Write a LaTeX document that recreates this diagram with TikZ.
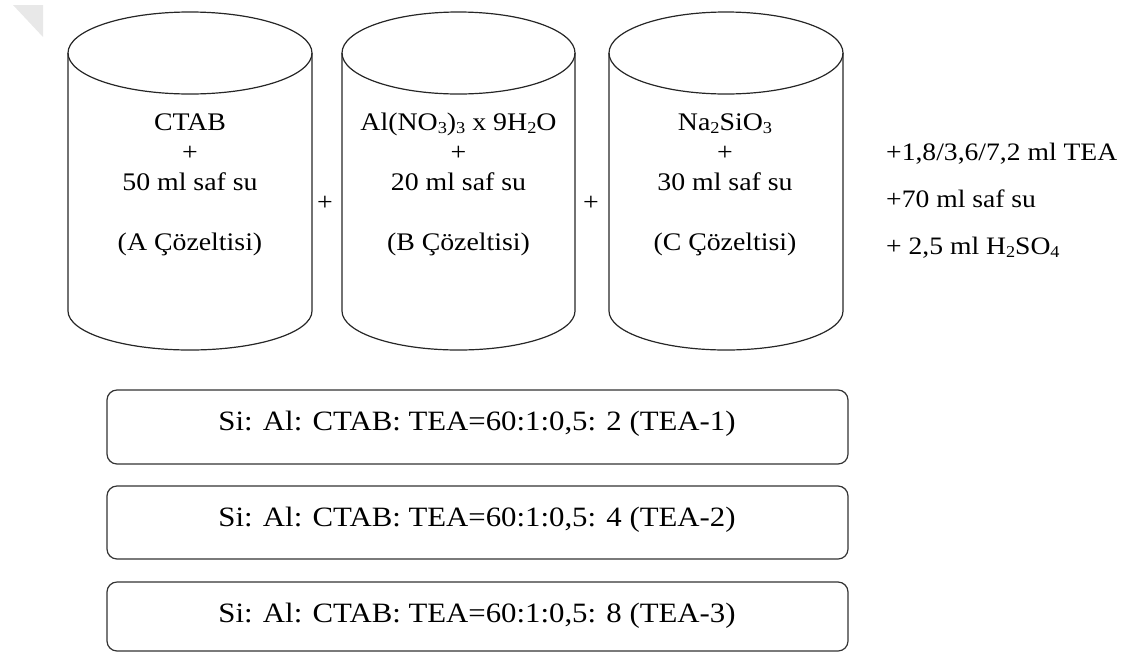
\documentclass[tikz,border=0pt]{standalone}
\usepackage{fontspec}
\setmainfont{Liberation Serif}[FakeStretch=1.1]
\newcommand\sbs[1]{\raisebox{-0.12em}{\scalebox{0.66}{#1}}}
\begin{document}
\begin{tikzpicture}[x=1pt,y=-1pt]
\tikzset{
  cyl/.style={draw=black!85, line width=1.2pt},
  ctext/.style={font=\fontsize{25.3}{28}\selectfont, anchor=base, inner sep=0pt},
  rtext/.style={font=\fontsize{25.1}{28}\selectfont, anchor=base west, inner sep=0pt},
  plustext/.style={font=\fontsize{25.3}{28}\selectfont, inner sep=0pt},
  ratiobox/.style={draw=black!80, line width=1.2pt, rounded corners=10pt, minimum width=741pt, inner sep=0pt},
  btext/.style={font=\fontsize{28}{30}\selectfont, inner sep=0pt},
  fold/.style={fill=black!9, draw=none}
}
\useasboundingbox (0,0) rectangle (1129,654);
% page-corner mark
\fill[fold] (13,5) -- (43,5) -- (43,37) -- cycle;

% cylinder A
\draw[cyl] (190,53) ellipse [x radius=122, y radius=41];
\draw[cyl] (68,53) -- (68,311) arc[start angle=180, end angle=0, x radius=122, y radius=39] -- (312,53);
% cylinder B
\draw[cyl] (458.5,53) ellipse [x radius=116.5, y radius=41];
\draw[cyl] (342,53) -- (342,311) arc[start angle=180, end angle=0, x radius=116.5, y radius=39] -- (575,53);
% cylinder C
\draw[cyl] (726,53) ellipse [x radius=117, y radius=41];
\draw[cyl] (609,53) -- (609,311) arc[start angle=180, end angle=0, x radius=117, y radius=39] -- (843,53);

% texts in A
\node[ctext] (a1) at (190,130) {CTAB};
\node[ctext] (a2) at (190,160) {+};
\node[ctext] (a3) at (190,190) {50 ml saf su};
\node[ctext] (a4) at (190,250) {(A Çözeltisi)};
% texts in B
\node[ctext] (b1) at (458.5,130) {Al(NO\sbs{3})\sbs{3} x 9H\sbs{2}O};
\node[ctext] (b2) at (458.5,160) {+};
\node[ctext] (b3) at (458.5,190) {20 ml saf su};
\node[ctext] (b4) at (458.5,250) {(B Çözeltisi)};
% texts in C
\node[ctext] (c1) at (725,130) {Na\sbs{2}SiO\sbs{3}};
\node[ctext] (c2) at (725,160) {+};
\node[ctext] (c3) at (725,190) {30 ml saf su};
\node[ctext] (c4) at (725,250) {(C Çözeltisi)};

% plus signs between cylinders
\node[plustext] (p1) at (325,203) {+};
\node[plustext] (p2) at (591,203) {+};

% additions on the right
\node[rtext] (r1) at (886,160) {+1,8/3,6/7,2 ml TEA};
\node[rtext] (r2) at (886,207) {+70 ml saf su};
\node[rtext] (r3) at (886,254) {+ 2,5 ml H\sbs{2}SO\sbs{4}};

% ratio boxes
\node[ratiobox, minimum height=74pt] (box1) at (477.5,427) {};
\node[ratiobox, minimum height=73pt] (box2) at (477.5,522.5) {};
\node[ratiobox, minimum height=69pt] (box3) at (477.5,616.5) {};
\node[btext] (t1) at (477,424) {Si: Al: CTAB: TEA=60:1:0,5: 2 (TEA-1)};
\node[btext] (t2) at (477,520) {Si: Al: CTAB: TEA=60:1:0,5: 4 (TEA-2)};
\node[btext] (t3) at (477,616) {Si: Al: CTAB: TEA=60:1:0,5: 8 (TEA-3)};
\end{tikzpicture}
\end{document}
